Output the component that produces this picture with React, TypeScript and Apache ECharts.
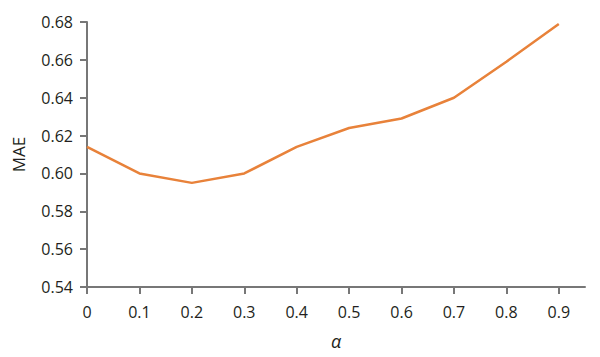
import React, { useEffect, useRef } from "react";
import * as echarts from "echarts";

const alphaValues = [0, 0.1, 0.2, 0.3, 0.4, 0.5, 0.6, 0.7, 0.8, 0.9];
const maeValues = [0.614, 0.6, 0.595, 0.6, 0.614, 0.624, 0.629, 0.64, 0.659, 0.679];
const yTicks = [0.54, 0.56, 0.58, 0.6, 0.62, 0.64, 0.66, 0.68];

export default function App() {
  const ref = useRef<HTMLDivElement>(null);
  useEffect(() => {
    if (!ref.current) return;
    const chart = echarts.init(ref.current, undefined, { renderer: "svg" });
    const axisColor = "#777777";
    const textColor = "#231f20";
    const font = "'Open Sans', 'Noto Sans', sans-serif";
    chart.setOption({
      animation: false,
      backgroundColor: "#ffffff",
      grid: { left: 87, top: 22, right: 15, bottom: 70 },
      xAxis: {
        type: "value",
        min: 0,
        max: 0.95,
        interval: 0.1,
        name: "α",
        nameLocation: "middle",
        nameGap: 45,
        nameTextStyle: { fontFamily: font, fontSize: 18, fontStyle: "italic", color: textColor },
        axisLine: { show: true, lineStyle: { color: axisColor, width: 2 } },
        axisTick: { show: true, length: 7, lineStyle: { color: axisColor, width: 2 }, customValues: alphaValues },
        axisLabel: {
          customValues: alphaValues,
          margin: 17,
          fontFamily: font,
          fontSize: 16,
          color: textColor,
          formatter: (v: number) => String(+v.toFixed(1)),
        },
        splitLine: { show: false },
      },
      yAxis: {
        type: "value",
        min: 0.54,
        max: 0.68,
        interval: 0.02,
        name: "MAE",
        nameLocation: "middle",
        nameGap: 60,
        nameTextStyle: { fontFamily: font, fontSize: 17, color: textColor },
        axisLine: { show: true, lineStyle: { color: axisColor, width: 2 } },
        axisTick: { show: true, length: 7, lineStyle: { color: axisColor, width: 2 }, customValues: yTicks },
        axisLabel: {
          customValues: yTicks,
          margin: 14,
          fontFamily: font,
          fontSize: 16,
          color: textColor,
          formatter: (v: number) => v.toFixed(2),
        },
        splitLine: { show: false },
      },
      series: [
        {
          type: "line",
          data: alphaValues.map((a, i) => [a, maeValues[i]]),
          showSymbol: false,
          symbol: "none",
          lineStyle: { color: "#e8823a", width: 2.5 },
        },
      ],
    });
    return () => chart.dispose();
  }, []);
  return (
    <div
      ref={ref}
      style={{ position: "fixed", left: 0, top: 0, width: 600, height: 357, background: "#fff" }}
    />
  );
}
